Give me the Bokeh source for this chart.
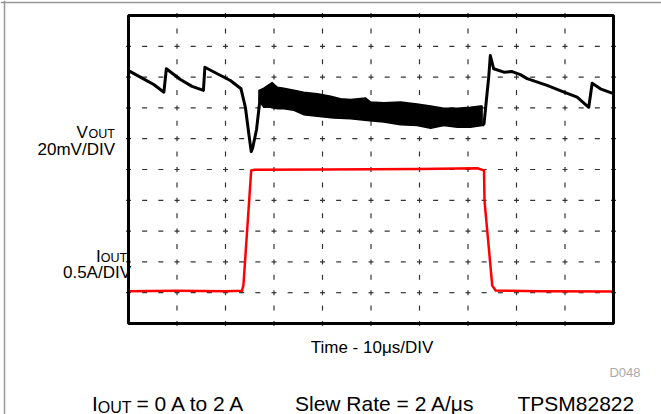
import numpy as np
from bokeh.plotting import figure
from bokeh.models import Range1d, GlobalInlineStyleSheet
from bokeh.core.properties import value
from bokeh.embed import file_html
from bokeh.resources import INLINE

# ---- data (in scope divisions: x 0..10, y 0..10 from bottom) ----
# VOUT trace, part before the load step noise band
vout_x1 = [0.00, 0.30, 0.52, 0.73, 0.78, 1.07, 1.31, 1.545, 1.575, 1.83, 2.10, 2.32,
           2.41, 2.48, 2.53, 2.56, 2.64, 2.72]
vout_y1 = [8.21, 7.95, 7.76, 7.51, 8.27, 7.92, 7.70, 7.57, 8.32, 8.11, 7.89, 7.62,
           7.02, 6.17, 5.58, 5.70, 6.30, 7.40]
# VOUT noise band envelope during the 2 A load
band_top_x = [2.69, 2.79, 2.96, 3.07, 3.20, 3.41, 3.61, 3.89, 4.17, 4.37, 4.58, 4.89,
              4.99, 5.26, 5.61, 5.95, 6.23, 6.50, 6.78, 7.05, 7.26, 7.29]
band_top_y = [7.57, 7.64, 7.82, 7.67, 7.64, 7.57, 7.51, 7.46, 7.38, 7.30, 7.27, 7.32,
              7.19, 7.17, 7.19, 7.13, 7.06, 6.99, 6.99, 7.02, 7.06, 7.06]
band_bot_x = [2.69, 2.79, 2.93, 3.07, 3.20, 3.41, 3.61, 3.89, 4.23, 4.58, 4.92, 5.26,
              5.61, 5.95, 6.23, 6.50, 6.78, 7.05, 7.29]
band_bot_y = [7.24, 7.02, 7.02, 6.97, 6.97, 6.92, 6.78, 6.73, 6.67, 6.65, 6.59, 6.54,
              6.45, 6.43, 6.34, 6.43, 6.37, 6.37, 6.43]
# VOUT trace after load release
vout_x2 = [7.29, 7.33, 7.43, 7.46, 7.53, 7.74, 7.91, 8.08, 8.22, 8.63, 8.98, 9.25,
           9.49, 9.56, 9.73, 9.97, 10.0]
vout_y2 = [6.43, 6.48, 8.05, 8.70, 8.27, 8.16, 8.18, 8.08, 7.95, 7.73, 7.51, 7.35,
           7.02, 7.80, 7.62, 7.48, 7.47]
# IOUT trace
iout_x = [0.00, 1.00, 2.00, 2.34, 2.37, 2.53, 2.60, 4.00, 6.00, 7.19, 7.33, 7.34,
          7.50, 7.57, 8.50, 10.0]
iout_y = [1.05, 1.06, 1.05, 1.06, 1.25, 4.97, 4.99, 5.00, 5.02, 5.04, 4.97, 3.99,
          1.23, 1.07, 1.05, 1.04]

DIV_X, DIV_Y = 10, 10

# ---- layout ----
W, H = 661, 414
PX_X, PX_Y = 48.5, 30.8      # pixels per division
LEFT_PX, TOP_PX = 128, 15    # scope grid position inside the canvas
x_start = -LEFT_PX / PX_X
x_end = x_start + W / PX_X
y_end = DIV_Y + TOP_PX / PX_Y
y_start = y_end - H / PX_Y

p = figure(width=W, height=H, output_backend="svg", toolbar_location=None,
           x_range=Range1d(x_start, x_end), y_range=Range1d(y_start, y_end),
           min_border=0, x_axis_location=None, y_axis_location=None,
           outline_line_color=None, background_fill_color="white",
           border_fill_color="white")
p.grid.visible = False
p.stylesheets = [GlobalInlineStyleSheet(css="html, body { margin: 0; padding: 0; overflow: hidden; }")]

FONT = value("Liberation Sans")

def px2x(px):
    return x_start + px / PX_X

def px2y(py):
    return y_end - py / PX_Y

# outer gray frame edges (top and left)
p.line([x_start, x_end], [px2y(2)] * 2, line_color="#999999", line_width=1.5)
p.line([px2x(4)] * 2, [y_start, y_end], line_color="#999999", line_width=1.5)

# dashed scope graticule
hx = np.tile(np.arange(0, DIV_X * 3 + 1) / 3, DIV_Y - 1)
hy = np.repeat(np.arange(1, DIV_Y), DIV_X * 3 + 1)
vx = np.repeat(np.arange(1, DIV_X), DIV_Y * 2 + 1)
vy = np.tile(np.arange(0, DIV_Y * 2 + 1) / 2, DIV_X - 1)
p.scatter(hx, hy, marker="dash", size=5, line_color="#333333", line_width=1.2)
p.scatter(vx, vy, marker="dash", size=5, angle=np.pi / 2, line_color="#333333", line_width=1.2)

# traces
p.line(vout_x1, vout_y1, line_color="black", line_width=3, line_join="round")
p.patch(band_top_x + band_bot_x[::-1], band_top_y + band_bot_y[::-1],
        fill_color="black", line_color="black", line_width=1.5, line_join="round")
p.line(vout_x2, vout_y2, line_color="black", line_width=3, line_join="round")
p.line(iout_x, iout_y, line_color="#ff0000", line_width=2.5, line_join="round")

def t(x, y, s, size, align="left", color="black"):
    p.text(x=[x], y=[y], text=[s], text_font=FONT, text_font_size=size,
           text_align=align, text_baseline="alphabetic", text_color=color)

# channel labels
t(px2x(76), px2y(132), "V", "17px")
t(px2x(88), px2y(133.5), "OUT", "12.5px")
t(px2x(114.5), px2y(149), "20mV/DIV", "17px", "right")
t(px2x(95.5), px2y(255.5), "I", "17px")
t(px2x(100.2), px2y(257), "OUT", "12.5px")
t(px2x(130.5), px2y(272.3), "0.5A/DIV", "17px", "right")

# time label, figure id, conditions
t(px2x(371.5), px2y(347), "Time - 10μs/DIV", "17px", "center")
t(px2x(640), px2y(372), "D048", "13px", "right", "#aaaaaa")
t(px2x(91.5), px2y(403), "I", "21px")
t(px2x(97.3), px2y(406.5), "OUT", "16px")
t(px2x(136), px2y(403), "= 0 A to 2 A", "21px")
t(px2x(294.5), px2y(403), "Slew Rate = 2 A/μs", "21px")
t(px2x(517), px2y(403), "TPSM82822", "21px")

# scope frame
p.quad(left=[0], right=[DIV_X], bottom=[0], top=[DIV_Y], fill_color=None,
       line_color="black", line_width=3)

open("out.html", "w").write(file_html(p, INLINE))
